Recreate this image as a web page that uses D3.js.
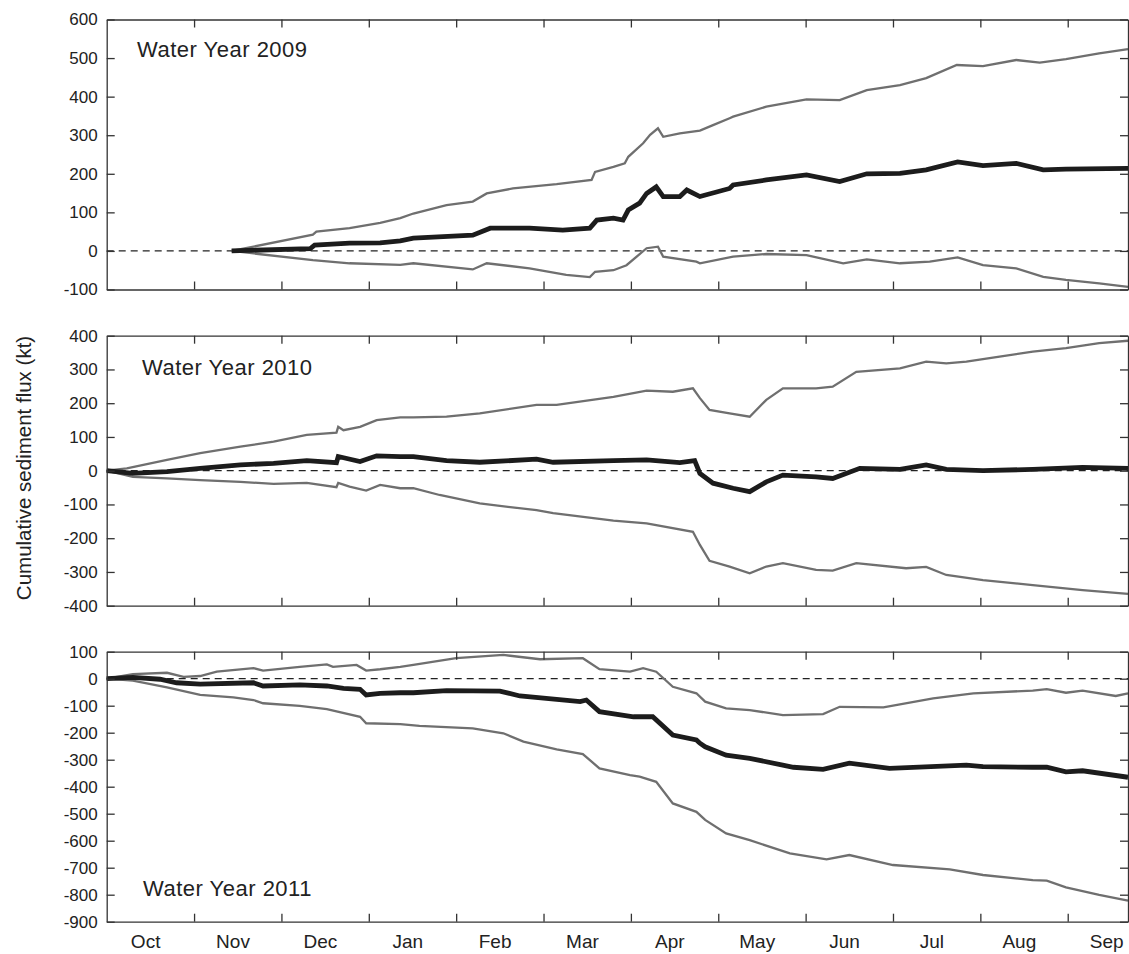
<!DOCTYPE html>
<meta charset="utf-8">
<style>
body { margin: 0; background: #fff; }
svg text { font-family: "Liberation Sans", Arial, Helvetica, sans-serif; fill: #222; }
.frame path, .frame line { stroke: #333; stroke-width: 1.3; }
.gray { stroke: #6f6f6f; stroke-width: 2.3; fill: none; }
.mid { stroke: #1c1c1c; stroke-width: 4.8; fill: none; }
.zero { stroke: #222; stroke-width: 1.3; stroke-dasharray: 7,5; }
</style>
<body>

<script src="https://d3js.org/d3.v7.min.js"></script>
<script>

// month axis: 0 = start of Oct, ticks at month boundaries
var monthNames = ["Oct","Nov","Dec","Jan","Feb","Mar","Apr","May","Jun","Jul","Aug","Sep"];
var monthTicks = [1,2,3,4,5,6,7,8,9,10,11];
var xEnd = 11.69;

var titles = ["Water Year 2009", "Water Year 2010", "Water Year 2011"];
var yDomains = [[-100, 600], [-400, 400], [-900, 100]];
var yTicks = [
  [-100, 0, 100, 200, 300, 400, 500, 600],
  [-400, -300, -200, -100, 0, 100, 200, 300, 400],
  [-900, -800, -700, -600, -500, -400, -300, -200, -100, 0, 100]
];

// [month, kt]
var wy09Hi = [[1.43,0],[2.36,42],[2.40,50],[2.78,59],[3.13,73],[3.36,85],[3.51,97],[3.89,119],[4.19,128],[4.35,149],[4.65,162],[5.15,173],[5.55,184],[5.59,205],[5.80,218],[5.93,227],[5.97,244],[6.14,279],[6.22,301],[6.31,318],[6.37,296],[6.56,305],[6.79,312],[6.94,326],[7.13,344],[7.17,348],[7.55,374],[8.01,393],[8.39,391],[8.70,417],[9.08,430],[9.38,448],[9.73,482],[10.03,479],[10.41,495],[10.68,488],[10.98,497],[11.36,512],[11.69,523]];
var wy09Mid = [[1.43,0],[2.33,6],[2.38,15],[2.78,20],[3.13,21],[3.36,26],[3.51,33],[4.19,41],[4.39,59],[4.84,59],[5.22,54],[5.53,59],[5.61,80],[5.80,85],[5.91,80],[5.97,106],[6.10,124],[6.18,149],[6.29,166],[6.37,141],[6.56,141],[6.64,158],[6.79,141],[7.13,162],[7.17,171],[7.55,184],[8.01,197],[8.39,180],[8.70,200],[9.08,201],[9.38,210],[9.74,231],[10.03,221],[10.41,227],[10.72,210],[10.98,212],[11.69,214]];
var wy09Lo = [[1.43,0],[2.36,-24],[2.78,-32],[3.36,-36],[3.51,-32],[4.19,-48],[4.35,-32],[4.84,-45],[5.26,-62],[5.53,-68],[5.59,-54],[5.80,-50],[5.95,-37],[6.18,7],[6.31,11],[6.37,-15],[6.75,-28],[6.79,-32],[7.17,-15],[7.55,-8],[8.01,-11],[8.43,-32],[8.70,-22],[9.08,-32],[9.42,-28],[9.74,-17],[10.03,-37],[10.41,-45],[10.72,-67],[10.98,-75],[11.36,-84],[11.69,-93]];

var wy10Hi = [[0,0],[0.23,7],[0.69,32],[1.07,52],[1.53,71],[1.91,86],[2.29,106],[2.63,113],[2.65,130],[2.71,120],[2.90,130],[3.09,150],[3.36,158],[3.51,158],[3.89,160],[4.27,170],[4.92,195],[5.15,195],[5.80,219],[6.18,237],[6.48,234],[6.71,244],[6.79,215],[6.90,180],[7.13,170],[7.36,160],[7.55,210],[7.74,244],[8.12,244],[8.31,249],[8.58,293],[9.08,303],[9.38,323],[9.61,318],[9.84,323],[10.22,338],[10.60,353],[10.98,363],[11.36,378],[11.69,385]];
var wy10Mid = [[0,0],[0.30,-8],[0.69,-3],[1.07,7],[1.53,17],[1.91,22],[2.29,30],[2.63,24],[2.65,42],[2.90,27],[3.09,44],[3.36,42],[3.51,42],[3.89,30],[4.27,25],[4.92,34],[5.11,25],[5.80,30],[6.18,32],[6.56,24],[6.73,30],[6.79,-8],[6.94,-37],[7.17,-52],[7.36,-62],[7.55,-33],[7.74,-13],[8.12,-18],[8.31,-23],[8.62,7],[9.08,4],[9.38,17],[9.61,4],[10.03,0],[10.60,4],[11.17,10],[11.69,7]];
var wy10Lo = [[0,0],[0.30,-18],[0.69,-23],[1.07,-28],[1.53,-33],[1.91,-39],[2.29,-36],[2.63,-49],[2.65,-36],[2.78,-47],[2.97,-59],[3.13,-42],[3.36,-52],[3.51,-52],[3.81,-72],[4.27,-97],[4.92,-117],[5.11,-126],[5.80,-148],[6.18,-156],[6.71,-181],[6.79,-220],[6.90,-267],[7.13,-284],[7.36,-304],[7.55,-284],[7.74,-274],[8.12,-294],[8.31,-296],[8.58,-274],[9.15,-289],[9.38,-285],[9.61,-309],[10.03,-324],[10.60,-339],[11.17,-354],[11.69,-365]];

var wy11Hi = [[0,0],[0.30,17],[0.69,22],[0.88,7],[1.07,10],[1.26,26],[1.68,39],[1.79,30],[2.21,44],[2.52,53],[2.59,44],[2.86,51],[2.97,30],[3.13,35],[3.36,44],[3.51,51],[4.00,76],[4.54,88],[4.96,72],[5.45,76],[5.64,35],[5.99,26],[6.14,39],[6.29,26],[6.48,-30],[6.75,-54],[6.85,-85],[7.09,-110],[7.36,-116],[7.74,-135],[8.20,-131],[8.39,-104],[8.89,-106],[9.46,-73],[9.92,-54],[10.60,-44],[10.76,-39],[10.98,-52],[11.17,-44],[11.55,-64],[11.69,-54]];
var wy11Mid = [[0,0],[0.30,5],[0.61,-2],[0.80,-15],[1.07,-20],[1.68,-15],[1.79,-27],[2.21,-23],[2.52,-27],[2.71,-36],[2.90,-39],[2.97,-60],[3.13,-54],[3.36,-52],[3.51,-52],[3.89,-44],[4.50,-46],[4.73,-64],[5.42,-85],[5.49,-79],[5.64,-122],[6.03,-141],[6.25,-141],[6.48,-209],[6.75,-227],[6.79,-239],[6.85,-252],[7.09,-283],[7.36,-295],[7.86,-328],[8.20,-336],[8.50,-313],[8.96,-332],[9.84,-320],[10.03,-326],[10.60,-328],[10.76,-328],[10.98,-345],[11.17,-341],[11.69,-365]];
var wy11Lo = [[0,0],[0.30,-7],[0.69,-32],[1.07,-60],[1.45,-69],[1.68,-79],[1.79,-91],[2.21,-101],[2.52,-113],[2.90,-141],[2.97,-165],[3.36,-168],[3.58,-175],[4.19,-184],[4.54,-202],[4.77,-233],[5.15,-262],[5.45,-279],[5.64,-332],[5.99,-357],[6.10,-363],[6.29,-382],[6.48,-462],[6.75,-493],[6.85,-523],[7.09,-573],[7.36,-598],[7.82,-647],[8.24,-669],[8.50,-653],[9.00,-690],[9.65,-706],[10.03,-727],[10.60,-746],[10.76,-748],[10.98,-773],[11.36,-801],[11.69,-822]];

var panels = [
  {title: titles[0], dom: yDomains[0], ticks: yTicks[0], hi: wy09Hi, mid: wy09Mid, lo: wy09Lo},
  {title: titles[1], dom: yDomains[1], ticks: yTicks[1], hi: wy10Hi, mid: wy10Mid, lo: wy10Lo},
  {title: titles[2], dom: yDomains[2], ticks: yTicks[2], hi: wy11Hi, mid: wy11Mid, lo: wy11Lo}
];

// layout
var W = 1129, H = 954;
var left = 106.7, right = 1128, ph = 270;
var tops = [19.5, 335.7, 651.7];
var titlePos = [[137, 37.5], [142, 39.3], [143, 244.3]];

var svg = d3.select("body").append("svg")
    .attr("width", W)
    .attr("height", H);

var x = d3.scaleLinear().domain([0, xEnd]).range([left, right]);

panels.forEach(function(p, i) {
  var top = tops[i];
  var y = d3.scaleLinear().domain(p.dom).range([top + ph, top]);
  var g = svg.append("g");

  var line = d3.line()
      .x(function(d) { return x(d[0]); })
      .y(function(d) { return y(d[1]); });

  // zero line
  g.append("line")
      .attr("class", "zero")
      .attr("x1", left).attr("x2", right)
      .attr("y1", y(0)).attr("y2", y(0));

  g.append("path").datum(p.hi).attr("class", "gray").attr("d", line);
  g.append("path").datum(p.lo).attr("class", "gray").attr("d", line);
  g.append("path").datum(p.mid).attr("class", "mid").attr("d", line);

  // frame + inward ticks
  g.append("g").attr("class", "frame")
      .attr("transform", "translate(" + left + ",0)")
      .call(d3.axisLeft(y).tickValues(p.ticks).tickSize(-8).tickSizeOuter(0).tickPadding(9)
        .tickFormat(function(d) { return String(d); }))
      .selectAll("text").style("font-size", "17px");
  g.append("g").attr("class", "frame")
      .attr("transform", "translate(" + right + ",0)")
      .call(d3.axisRight(y).tickValues(p.ticks).tickSize(-8).tickSizeOuter(0).tickFormat(""));
  g.append("g").attr("class", "frame")
      .attr("transform", "translate(0," + top + ")")
      .call(d3.axisTop(x).tickValues(monthTicks).tickSize(-8).tickSizeOuter(0).tickFormat(""));
  g.append("g").attr("class", "frame")
      .attr("transform", "translate(0," + (top + ph) + ")")
      .call(d3.axisBottom(x).tickValues(monthTicks).tickSize(-8).tickSizeOuter(0).tickFormat(""));

  g.append("text")
      .attr("x", titlePos[i][0])
      .attr("y", top + titlePos[i][1])
      .style("font-size", "22px")
      .style("letter-spacing", "0.5px")
      .text(p.title);

  if (i == 2) {
    var lab = g.append("g")
        .attr("transform", "translate(0," + (top + ph) + ")")
        .call(d3.axisBottom(x).tickValues(monthNames.map(function(d, k) { return k + 0.44; }))
          .tickSize(0).tickPadding(13)
          .tickFormat(function(d) { return monthNames[Math.floor(d)]; }));
    lab.select(".domain").remove();
    lab.selectAll("text").style("font-size", "19px");
  }
});

svg.append("text")
    .attr("transform", "translate(23,468) rotate(-90)")
    .attr("text-anchor", "middle")
    .attr("dominant-baseline", "central")
    .style("font-size", "20.5px")
    .text("Cumulative sediment flux (kt)");

</script>
</body>
